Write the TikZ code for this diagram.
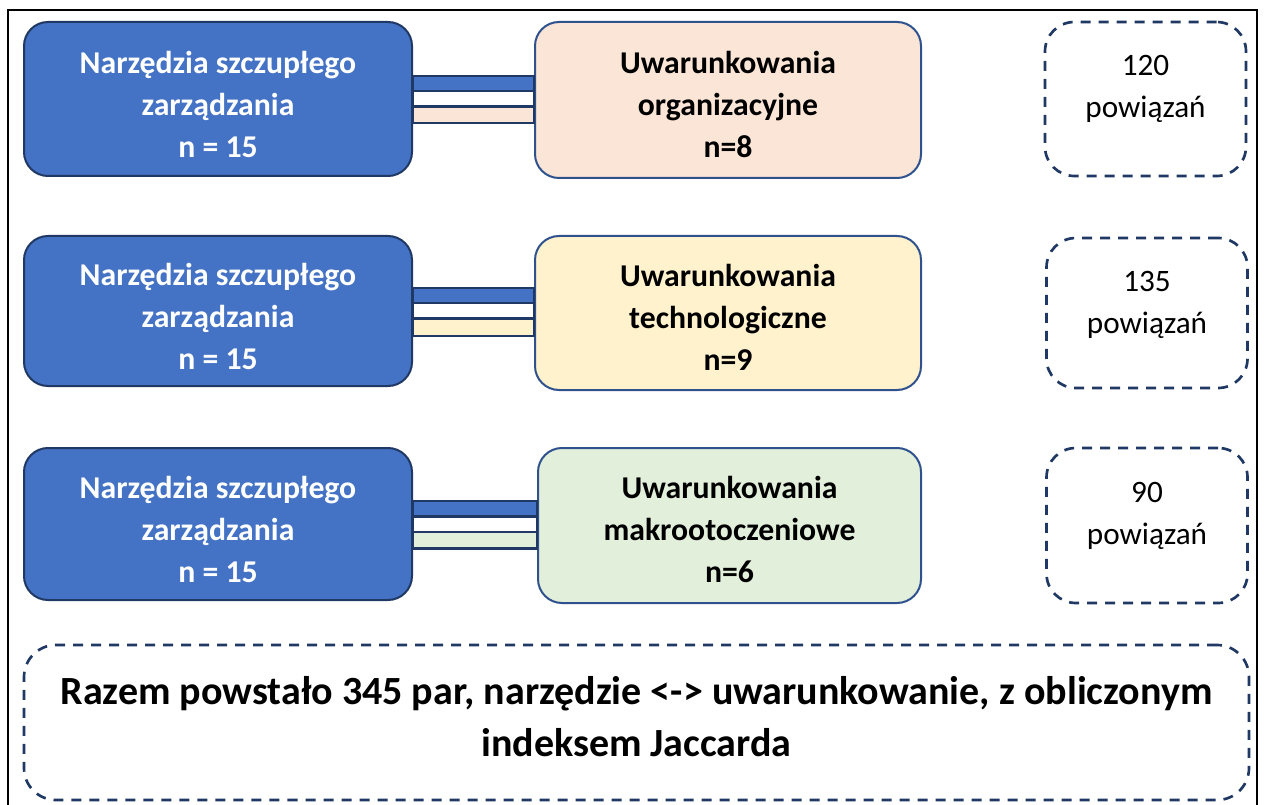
\documentclass[tikz,border=0pt]{standalone}
\usepackage{fontspec}
\setmainfont{Carlito}
\usetikzlibrary{calc}
\definecolor{toolblue}{HTML}{4472C4}
\definecolor{navy}{HTML}{203864}
\definecolor{edgeblue}{HTML}{2F528F}
\definecolor{orgfill}{HTML}{FBE5D6}
\definecolor{techfill}{HTML}{FFF2CC}
\definecolor{envfill}{HTML}{E2EFDA}
\def\pxu{0.75pt}
\tikzset{
  toolbox/.style={draw=navy, line width=1.5pt, fill=toolblue, rounded corners=18pt,
    minimum width=388*\pxu, inner sep=0pt},
  factorbox/.style={draw=edgeblue, line width=1.5pt, rounded corners=18pt,
    minimum width=386*\pxu, inner sep=0pt},
  boxtext/.style={align=center, font=\fontsize{23.8}{31.5}\selectfont\bfseries, inner sep=0pt},
  countbox/.style={draw=navy, line width=2pt, dash pattern=on 7.5pt off 6pt,
    rounded corners=22pt, minimum width=201*\pxu, inner sep=0pt},
  counttext/.style={font=\fontsize{23.4}{31.5}\selectfont, align=center},
  strip/.style={draw=navy, line width=1.8pt},
}
\begin{document}
\begin{tikzpicture}[x=0.75pt,y=-0.75pt]
\useasboundingbox (0,0) rectangle (1266,805);
\fill[white] (0,0) rectangle (1266,805);
% outer frame
\draw[black, line width=1.5pt] (8,806) -- (8,10) -- (1257,10) -- (1257,806);

% row 1: organisational factors
\node[toolbox, minimum height=154*\pxu] (t1) at (218,99) {};
\node[boxtext, text=white] (t1l) at ($(t1.center)+(0,5)$) {Narzędzia szczupłego\\zarządzania\\n = 15};
\node[factorbox, fill=orgfill, minimum height=156*\pxu] (f1) at (728,100) {};
\node[boxtext] (f1l) at ($(f1.center)+(0,4)$) {Uwarunkowania\\organizacyjne\\n=8};
\node[countbox, minimum height=154*\pxu] (c1) at (1145.5,99) {};
\node[counttext] (c1t) at ($(c1.center)+(0,-10)$) {120\\powiązań};

% row 2: technological factors
\node[toolbox, minimum height=150*\pxu] (t2) at (218,311) {};
\node[boxtext, text=white] (t2l) at ($(t2.center)+(0,5)$) {Narzędzia szczupłego\\zarządzania\\n = 15};
\node[factorbox, fill=techfill, minimum height=154*\pxu] (f2) at (728,313) {};
\node[boxtext] (f2l) at ($(f2.center)+(0,4)$) {Uwarunkowania\\technologiczne\\n=9};
\node[countbox, minimum height=150*\pxu] (c2) at (1147,313) {};
\node[counttext] (c2t) at ($(c2.center)+(0,-8)$) {135\\powiązań};

% row 3: macro-environmental factors
\node[toolbox, minimum height=152*\pxu] (t3) at (218,524) {};
\node[boxtext, text=white] (t3l) at ($(t3.center)+(0,5)$) {Narzędzia szczupłego\\zarządzania\\n = 15};
\node[factorbox, fill=envfill, minimum height=155*\pxu, minimum width=383*\pxu] (f3) at (729.5,525.5) {};
\node[boxtext] (f3l) at ($(f3.center)+(0,4)$) {Uwarunkowania\\makrootoczeniowe\\n=6};
\node[countbox, minimum height=155*\pxu] (c3) at (1147,525.5) {};
\node[counttext] (c3t) at ($(c3.center)+(0,-10)$) {90\\powiązań};

% triple strips joining each tool box to its factor box
\foreach \t/\f/\fc in {t1/f1/orgfill, t2/f2/techfill, t3/f3/envfill}{
  \draw[strip, fill=toolblue] ($(\t.east)+(0,-23)$) rectangle ($(\f.west)+(0,-7.7)$);
  \draw[strip, fill=white]    ($(\t.east)+(0,-7.7)$) rectangle ($(\f.west)+(0,7.7)$);
  \draw[strip, fill=\fc]      ($(\t.east)+(0,7.7)$) rectangle ($(\f.west)+(0,23)$);
}

% summary
\node[draw=navy, line width=2pt, dash pattern=on 7.5pt off 6pt, rounded corners=24pt,
  minimum width=1225*\pxu, minimum height=155*\pxu] (sum) at (636.5,722.5) {};
\node[font=\fontsize{30}{39}\selectfont\bfseries, align=center] (sumt) at ($(sum.center)+(0,-6)$)
  {Razem powstało 345 par, narzędzie <-> uwarunkowanie, z obliczonym\\indeksem Jaccarda};
\end{tikzpicture}
\end{document}
